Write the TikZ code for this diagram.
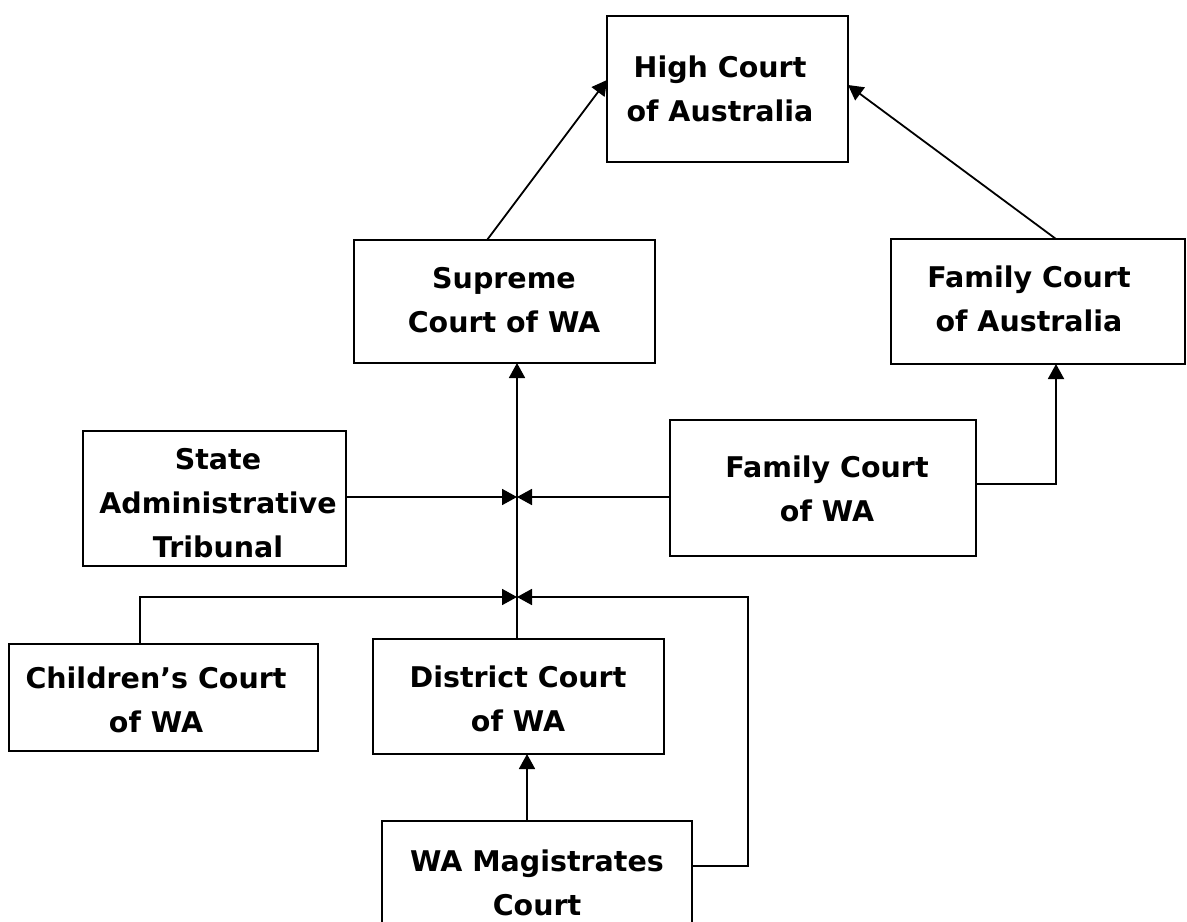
\documentclass[tikz,border=0pt]{standalone}
\usepackage{fontspec}
\setmainfont{DejaVu Sans}
\usetikzlibrary{arrows.meta,fit}
\newcommand\topstrut{\rule{0pt}{11.5pt}}
\tikzset{
  courtbox/.style={draw=black, line width=1.2pt, inner sep=0pt, outer sep=0pt, rectangle},
  lbl/.style={align=center, anchor=north, inner sep=0pt, outer sep=0pt,
    font=\fontsize{14.25pt}{22pt}\selectfont\bfseries},
  arr/.style={draw=black, line width=0.9pt, -{Triangle[length=7.5pt,width=8pt]}},
  conn/.style={draw=black, line width=0.9pt}
}
\begin{document}
\begin{tikzpicture}[x=0.5pt,y=-0.5pt]
\path[use as bounding box] (0,0) rectangle (1187,921);
\clip (0,0) rectangle (1187,921);
\fill[white] (0,0) rectangle (1187,921);
% boxes
\node[courtbox, fit={(607,16) (848,162)}] (hc) {};
\node[courtbox, fit={(354,240) (655,363)}] (sup) {};
\node[courtbox, fit={(891,239) (1185,364)}] (fca) {};
\node[courtbox, fit={(83,431) (346,566)}] (sat) {};
\node[courtbox, fit={(670,420) (976,556)}] (fcwa) {};
\node[courtbox, fit={(9,644) (318,751)}] (chi) {};
\node[courtbox, fit={(373,639) (664,754)}] (dis) {};
\node[courtbox, fit={(382,821) (692,940)}] (mag) {};
% labels
\node[lbl] (hct) at (720,54) {\topstrut High Court\\of Australia};
\node[lbl] (supt) at (504,265) {\topstrut Supreme\\Court of WA};
\node[lbl] (fcat) at (1029,264) {\topstrut Family Court\\of Australia};
\node[lbl] (satt) at (218,446) {\topstrut State\\Administrative\\Tribunal};
\node[lbl] (fcwat) at (827,454) {\topstrut Family Court\\of WA};
\node[lbl] (chit) at (156,665) {\topstrut Children’s Court\\of WA};
\node[lbl] (dist) at (518,664) {\topstrut District Court\\of WA};
\node[lbl] (magt) at (537,848) {\topstrut WA Magistrates\\Court};
% junction coordinates
\coordinate (j1) at (517,497);
\coordinate (j2) at (517,597);
\coordinate (supx) at (487,240);
\coordinate (hcl) at (607,80);
\coordinate (hcr) at (848,85);
\coordinate (fcax) at (1056,300);
\coordinate (fcwar) at (976,484);
\coordinate (chix) at (140,600);
\coordinate (magr) at (692,866);
\coordinate (mcorner) at (748,597);
\coordinate (colm) at (527,700);
% connectors
\draw[arr] (sup.north -| supx) -- (hc.west |- hcl);
\draw[arr] (fca.north -| fcax) -- (hc.east |- hcr);
\draw[arr] (dis.north -| j1) -- (sup.south -| j1);
\draw[arr] (sat.east |- j1) -- (j1);
\draw[arr] (fcwa.west |- j1) -- (j1);
\draw[arr] (fcwa.east |- fcwar) -| (fca.south -| fcax);
\draw[arr] (chi.north -| chix) |- (j2);
\draw[arr] (mag.east |- magr) -| (mcorner) -- (j2);
\draw[arr] (mag.north -| colm) -- (dis.south -| colm);
\end{tikzpicture}
\end{document}
